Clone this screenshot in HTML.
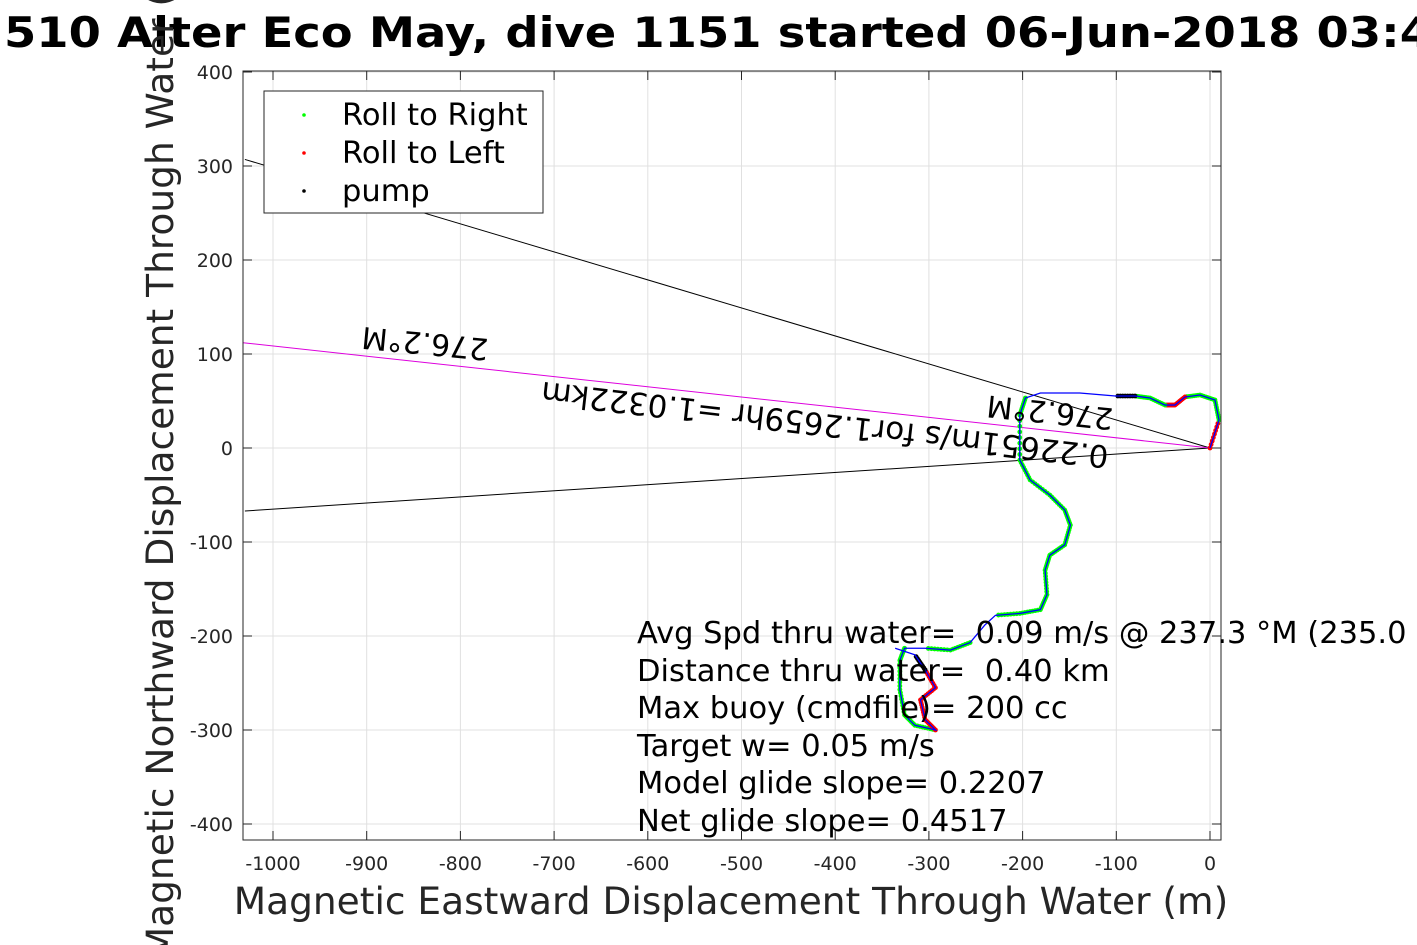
<!DOCTYPE html>
<html><head><meta charset="utf-8"><style>
body{margin:0;background:#fff;overflow:hidden}
svg{display:block;font-family:"DejaVu Sans","Liberation Sans",sans-serif}
text{white-space:pre}
</style></head><body>
<svg id="c" width="1417" height="945" xmlns="http://www.w3.org/2000/svg">
<defs><clipPath id="pc"><rect x="243" y="71" width="978" height="769"/></clipPath></defs>
<rect width="1417" height="945" fill="#fff"/>
<text x="4" y="47" font-size="42" font-weight="bold" textLength="1428" lengthAdjust="spacingAndGlyphs">510 Alter Eco May, dive 1151 started 06-Jun-2018 03:4</text>
<g id="grid"></g>
<g id="plot" clip-path="url(#pc)"></g>
<rect x="243" y="71" width="978" height="769" fill="none" stroke="#262626" stroke-width="1"/>
<g id="ticks"></g>
<text x="731" y="914" font-size="37.5" fill="#262626" text-anchor="middle">Magnetic Eastward Displacement Through Water (m)</text>
<text transform="translate(173,450) rotate(-90)" font-size="37.5" fill="#262626" text-anchor="middle">Magnetic Northward Displacement Through Water (m)</text>
<g font-size="30.5">
<text x="637" y="643" xml:space="preserve">Avg Spd thru water=  0.09 m/s @ 237.3 °M (235.0 °T)</text>
<text x="637" y="681" xml:space="preserve">Distance thru water=  0.40 km</text>
<text x="637" y="718">Max buoy (cmdfile)= 200 cc</text>
<text x="637" y="756">Target w= 0.05 m/s</text>
<text x="637" y="793">Model glide slope= 0.2207</text>
<text x="637" y="831">Net glide slope= 0.4517</text>
</g>
<g>
<rect x="264" y="91" width="279" height="122" fill="#fff" stroke="#262626" stroke-width="1"/>
<circle cx="304" cy="115" r="1.8" fill="#0f0"/><text x="342" y="125" font-size="30.5">Roll to Right</text>
<circle cx="304" cy="153" r="1.8" fill="#f00"/><text x="342" y="163" font-size="30.5">Roll to Left</text>
<circle cx="304" cy="191" r="1.8" fill="#000"/><text x="342" y="201" font-size="30.5">pump</text>
</g>
</svg>
<script>
const xTicks=[-1000,-900,-800,-700,-600,-500,-400,-300,-200,-100,0];
const yTicks=[-400,-300,-200,-100,0,100,200,300,400];
const trackX=[0,9.6,5.3,-10.7,-26.7,-37.4,-48,-64,-80,-101,-139,-181,-197,-203,-203,-192,-171,-155,-149,-155,-171,-176,-174,-181,-203,-229,-240,-256,-277,-304,-326,-331,-331,-326,-315,-293,-304,-309,-293,-304,-315,-336];
const trackY=[0,29.8,51.1,56.4,54.3,45.7,45.7,53.2,55.3,55.3,58.5,58.5,53.2,35.1,-12.8,-34,-50,-66,-82,-103,-114,-130,-156,-172,-176,-178,-188,-207,-215,-213,-213,-226,-257,-284,-295,-300,-289,-268,-255,-236,-220,-213];
const trackRoll=['L','R','R','R','L','L','R','R','P','','','','R','R','R','R','R','R','R','R','R','R','R','R','R','','','R','R','','R','R','R','R','R','L','L','L','L','P','',''];
const headingLineEnds=[[-1030,-67],[-1030,307],[-1032,112]];
const X=v=>1210+v*0.937, Y=v=>448-v*0.94;
const NS='http://www.w3.org/2000/svg';
function mk(t,a,p){const e=document.createElementNS(NS,t);for(const k in a)e.setAttribute(k,a[k]);p.appendChild(e);return e;}
const grid=document.getElementById('grid'),ticks=document.getElementById('ticks'),plot=document.getElementById('plot');
xTicks.forEach(v=>{const x=X(v);
 const g=mk('line',{x1:x,x2:x,y1:71,y2:840,stroke:'#e0e0e0'},grid);
 
 
 mk('line',{x1:x,x2:x,y1:840,y2:831,stroke:'#262626'},ticks);
 mk('line',{x1:x,x2:x,y1:71,y2:80,stroke:'#262626'},ticks);
 const t=mk('text',{x:x,y:870,'font-size':19,'text-anchor':'middle',fill:'#262626'},ticks);t.textContent=v;
 
 });
yTicks.forEach(v=>{const y=Y(v);
 const g=mk('line',{x1:243,x2:1221,y1:y,y2:y,stroke:'#e0e0e0'},grid);
 
 
 mk('line',{x1:243,x2:252,y1:y,y2:y,stroke:'#262626'},ticks);
 mk('line',{x1:1221,x2:1212,y1:y,y2:y,stroke:'#262626'},ticks);
 const t=mk('text',{x:233,y:y+7,'font-size':19,'text-anchor':'end',fill:'#262626'},ticks);t.textContent=v;
 
 });
headingLineEnds.forEach((p,i)=>{const l=mk('line',{x1:X(0),y1:Y(0),x2:X(p[0]),y2:Y(p[1]),stroke:i==2?'#d0d':'#000','stroke-width':1},plot);
 
 });
for(let i=0;i<trackX.length-1;i++){const r=trackRoll[i];if(!r)continue;
 const col=r=='R'?'#0f0':r=='L'?'#f00':'#000';
 for(let k=0;k<8;k++){const f=k/8;
  const c=mk('circle',{cx:X(trackX[i]+(trackX[i+1]-trackX[i])*f),cy:Y(trackY[i]+(trackY[i+1]-trackY[i])*f),r:2.4,fill:col},plot);
  
  }}
const pl=mk('polyline',{points:trackX.map((x,i)=>X(x)+','+Y(trackY[i])).join(' '),fill:'none',stroke:'#00f','stroke-width':1.3},plot);


function rt(txt,x,y,a,fs,name){const t=mk('text',{transform:`translate(${x},${y}) rotate(${a})`,'font-size':fs,'text-anchor':'middle'},plot);t.textContent=txt;
 
 }
rt('276.2°M',426,333,185.5,30,'heading-label-left');
rt('0.22651m/s for1.2659hr =1.0322km',826,414,186.5,31,'current-label');
rt('276.2°M',1051,402,186,30,'heading-label-right');
</script>
</body></html>
